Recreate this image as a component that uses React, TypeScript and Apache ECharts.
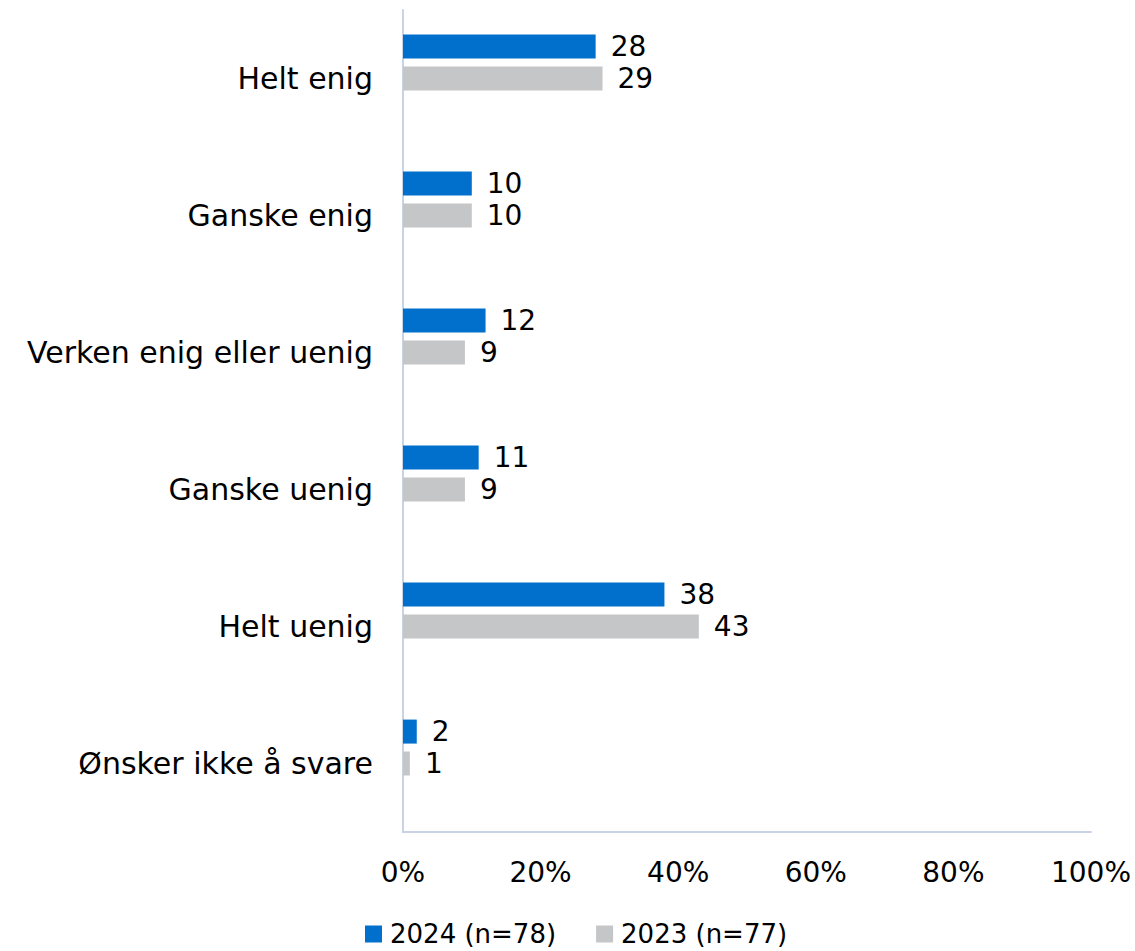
import React, { useEffect, useRef } from "react";
import * as echarts from "echarts";

const categories = [
  "Helt enig",
  "Ganske enig",
  "Verken enig eller uenig",
  "Ganske uenig",
  "Helt uenig",
  "Ønsker ikke å svare",
];
const values2024 = [28, 10, 12, 11, 38, 2];
const values2023 = [29, 10, 9, 9, 43, 1];
const placeholder = ["-", "-", "-", "-", "-", "-"];
const seriesNames = ["2024 (n=78)", "2023 (n=77)"];
const xTicks = { min: 0, max: 100, interval: 20 };

const FONT = "DejaVu Sans";

export default function App() {
  const ref = useRef<HTMLDivElement>(null);
  useEffect(() => {
    document.body.style.margin = "0";
    if (!ref.current) return;
    const chart = echarts.init(ref.current, null, { renderer: "svg" });
    const label = {
      show: true,
      position: "right",
      distance: 15,
      color: "#000",
      fontFamily: FONT,
      fontSize: 28,
    };
    chart.setOption({
      animation: false,
      backgroundColor: "#fff",
      textStyle: { fontFamily: FONT },
      grid: { left: 403, right: 44, top: 10, bottom: 119, containLabel: false },
      legend: {
        data: seriesNames,
        left: 365,
        top: 919,
        padding: 0,
        icon: "rect",
        itemWidth: 17,
        itemHeight: 17,
        itemGap: 40,
        textStyle: {
          fontFamily: FONT,
          fontSize: 26,
          lineHeight: 30,
          color: "#000",
          padding: [0, 0, 0, 3],
        },
      },
      xAxis: {
        type: "value",
        min: xTicks.min,
        max: xTicks.max,
        interval: xTicks.interval,
        axisLine: { show: true, lineStyle: { color: "#c8d4e6", width: 2 } },
        axisTick: { show: false },
        splitLine: { show: false },
        axisLabel: {
          formatter: "{value}%",
          color: "#000",
          fontFamily: FONT,
          fontSize: 28,
          margin: 26,
        },
      },
      yAxis: {
        type: "category",
        data: categories,
        inverse: true,
        axisLine: { show: true, lineStyle: { color: "#c8d4e6", width: 2 } },
        axisTick: { show: false },
        axisLabel: {
          color: "#000",
          fontFamily: FONT,
          fontSize: 30,
          margin: 30,
        },
      },
      series: [
        {
          name: seriesNames[0],
          type: "bar",
          data: values2024,
          barWidth: 24,
          barGap: "33%",
          itemStyle: { color: "#0070cc" },
          label,
        },
        {
          name: seriesNames[1],
          type: "bar",
          data: values2023,
          barWidth: 24,
          barGap: "33%",
          itemStyle: { color: "#c5c6c8" },
          label,
        },
        {
          name: "placeholder",
          type: "bar",
          data: placeholder,
          barWidth: 24,
          barGap: "33%",
          itemStyle: { color: "transparent" },
        },
      ],
    });
    return () => chart.dispose();
  }, []);
  return <div ref={ref} style={{ width: 1135, height: 951 }} />;
}
